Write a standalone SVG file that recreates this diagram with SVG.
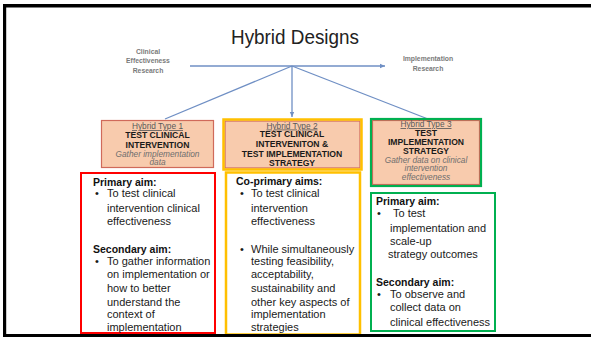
<svg xmlns="http://www.w3.org/2000/svg" width="591" height="337" viewBox="0 0 591 337">
<style>
.lbl{font-family:"Liberation Sans",Arial,sans-serif;font-size:6.8px;fill:#7a7a7a;font-weight:bold;text-anchor:middle}
.ht{font-family:"Liberation Sans",Arial,sans-serif;font-size:8.3px;fill:#595959;text-anchor:middle;text-decoration:underline}
.hb{font-family:"Liberation Sans",Arial,sans-serif;font-size:8.6px;fill:#1a1a1a;font-weight:bold;text-anchor:middle}
.hi{font-family:"Liberation Sans",Arial,sans-serif;font-size:8.3px;fill:#6e6e6e;font-style:italic;text-anchor:middle}
.b{font-family:"Liberation Sans",Arial,sans-serif;font-size:10.5px;fill:#111;font-weight:bold}
.t{font-family:"Liberation Sans",Arial,sans-serif;font-size:11px;fill:#1a1a1a}
.peach{fill:#f8cbad;stroke:#d06a5a;stroke-width:1.2}
.conn{stroke:#6f8fc4;stroke-width:1.3;fill:none}
</style>
<defs>
<marker id="ah" markerWidth="6" markerHeight="6" refX="5" refY="3" orient="auto" markerUnits="userSpaceOnUse">
<path d="M0,0.8 L5,3 L0,5.2 Z" fill="#6f8fc4"/>
</marker>
</defs>
<rect x="0" y="0" width="591" height="337" fill="#fff"/>
<text x="295" y="44" font-family="Liberation Sans, Arial, sans-serif" font-size="20" fill="#222" text-anchor="middle" textLength="128" lengthAdjust="spacingAndGlyphs">Hybrid Designs</text>
<g id="label-clinical">
<text class="lbl" x="148" y="53.5">Clinical</text>
<text class="lbl" x="148" y="63">Effectiveness</text>
<text class="lbl" x="148" y="72.5">Research</text>
</g>
<g id="label-implementation">
<text class="lbl" x="428" y="61">Implementation</text>
<text class="lbl" x="428" y="71">Research</text>
</g>
<g id="connectors">
<line class="conn" x1="190" y1="66" x2="385" y2="66" marker-end="url(#ah)"/>
<line class="conn" x1="292" y1="66" x2="165" y2="119"/>
<line class="conn" x1="292" y1="66" x2="292" y2="117" marker-end="url(#ah)"/>
<line class="conn" x1="292" y1="66" x2="428" y2="119"/>
</g>
<g id="type1">
<rect class="peach" x="101.5" y="120.5" width="112" height="47"/>
<text class="ht" x="157.5" y="129">Hybrid Type 1</text>
<text class="hb" x="157.5" y="138">TEST CLINICAL</text>
<text class="hb" x="157.5" y="147.5">INTERVENTION</text>
<text class="hi" x="157.5" y="156.5">Gather implementation</text>
<text class="hi" x="157.5" y="165">data</text>
</g>
<g id="type2">
<rect class="peach" x="225" y="121" width="135" height="47"/>
<rect x="223.5" y="119.5" width="138" height="50" fill="none" stroke="#ffc000" stroke-width="2.5"/>
<text class="ht" x="292" y="128.5">Hybrid Type 2</text>
<text class="hb" x="292" y="137">TEST CLINICAL</text>
<text class="hb" x="292" y="147">INTERVENITON &amp;</text>
<text class="hb" x="292" y="156.7">TEST IMPLEMENTATION</text>
<text class="hb" x="292" y="165.7">STRATEGY</text>
</g>
<g id="type3">
<rect class="peach" x="372.5" y="120.5" width="107" height="64"/>
<rect x="371" y="119" width="110" height="67" fill="none" stroke="#00b050" stroke-width="2.2"/>
<text class="ht" x="426" y="127">Hybrid Type 3</text>
<text class="hb" x="426" y="136">TEST</text>
<text class="hb" x="426" y="144.5">IMPLEMENTATION</text>
<text class="hb" x="426" y="153.5">STRATEGY</text>
<text class="hi" x="426" y="162.5">Gather data on clinical</text>
<text class="hi" x="426" y="171">intervention</text>
<text class="hi" x="426" y="180">effectiveness</text>
</g>
<g id="aims1">
<rect x="81" y="173" width="134" height="160" fill="#fff" stroke="#ff0000" stroke-width="2"/>
<text class="b" x="93" y="186">Primary  aim:</text>
<text class="t" x="95" y="197">•</text>
<text class="t" x="107" y="197">To test clinical</text>
<text class="t" x="107" y="212">intervention clinical</text>
<text class="t" x="107" y="225">effectiveness</text>
<text class="b" x="93" y="253">Secondary aim:</text>
<text class="t" x="95" y="265">•</text>
<text class="t" x="107" y="265">To gather information</text>
<text class="t" x="107" y="278">on implementation  or</text>
<text class="t" x="107" y="292">how to better</text>
<text class="t" x="107" y="306">understand the</text>
<text class="t" x="107" y="318">context of</text>
<text class="t" x="107" y="331">implementation</text>
</g>
<g id="aims2">
<rect x="226" y="172.5" width="134" height="162" fill="#fff" stroke="#ffc000" stroke-width="2.5"/>
<text class="b" x="236" y="185">Co-primary aims:</text>
<text class="t" x="240" y="197">•</text>
<text class="t" x="251" y="197">To test clinical</text>
<text class="t" x="251" y="212">intervention</text>
<text class="t" x="251" y="225">effectiveness</text>
<text class="t" x="240" y="253">•</text>
<text class="t" x="251" y="253">While simultaneously</text>
<text class="t" x="251" y="265">testing feasibility,</text>
<text class="t" x="251" y="278">acceptability,</text>
<text class="t" x="251" y="292">sustainability and</text>
<text class="t" x="251" y="306">other key aspects of</text>
<text class="t" x="251" y="318">implementation</text>
<text class="t" x="251" y="331">strategies</text>
</g>
<g id="aims3">
<rect x="371" y="193" width="124" height="138" fill="#fff" stroke="#00b050" stroke-width="2"/>
<text class="b" x="376" y="205">Primary  aim:</text>
<text class="t" x="377" y="217">•</text>
<text class="t" x="393" y="217">To test</text>
<text class="t" x="390" y="232">implementation  and</text>
<text class="t" x="390" y="245">scale-up</text>
<text class="t" x="388" y="258">strategy outcomes</text>
<text class="b" x="376" y="286">Secondary aim:</text>
<text class="t" x="377" y="298">•</text>
<text class="t" x="390" y="298">To observe and</text>
<text class="t" x="390" y="311">collect data on</text>
<text class="t" x="390" y="326">clinical effectiveness</text>
</g>
<g id="frame" fill="#000">
<rect x="3" y="4" width="588" height="3.5"/>
<rect x="3" y="4" width="3.2" height="333"/>
<rect x="3" y="334" width="588" height="3"/>
</g>
</svg>
